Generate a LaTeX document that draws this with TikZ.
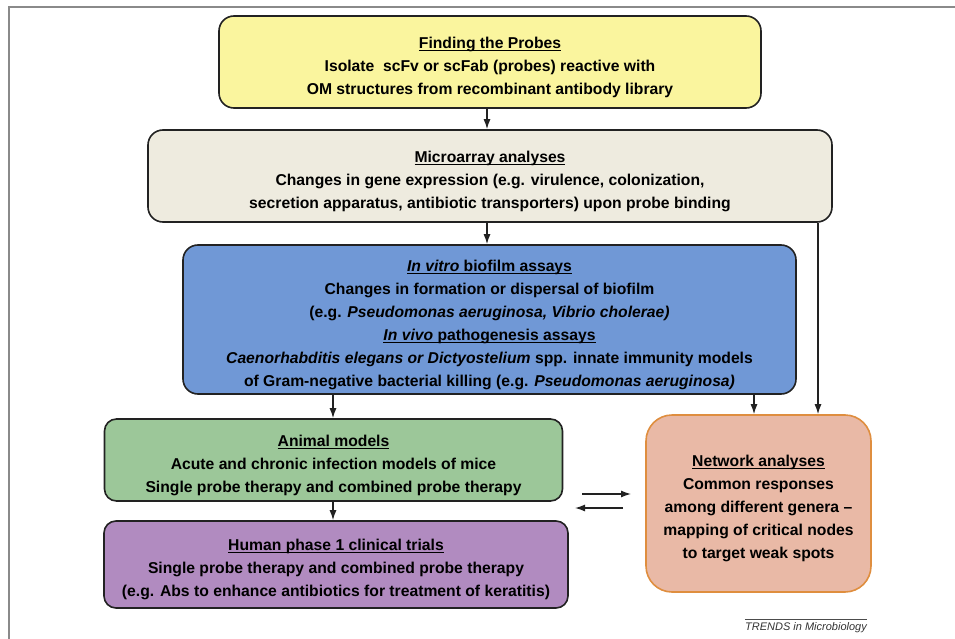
\documentclass[tikz,border=0pt]{standalone}
\usepackage{fontspec}
\setmainfont{Liberation Sans}
\usetikzlibrary{arrows.meta}
\definecolor{cyel}{HTML}{FAF59E}
\definecolor{cmic}{HTML}{EEEBDF}
\definecolor{cblue}{HTML}{7098D6}
\definecolor{cgreen}{HTML}{9CC799}
\definecolor{cpurp}{HTML}{B18BC0}
\definecolor{corf}{HTML}{E9B9A6}
\definecolor{cord}{HTML}{DF8E3F}
\definecolor{boxline}{HTML}{222222}
\definecolor{framec}{HTML}{8A8A8A}
\newcommand\ulx[1]{\setbox0\hbox{#1}\rlap{\rule[-2.6pt]{\wd0}{1.1pt}}\box0}
\newcommand\topstr{\rule{0pt}{22pt}}
\begin{document}
\begin{tikzpicture}[x=1pt,y=-1pt,
  box/.style={draw=boxline, line width=1.6pt, rounded corners=15pt, align=center,
    font=\bfseries\fontsize{15.7}{23}\selectfont, inner sep=0pt},
  arr/.style={line width=1.3pt, draw=boxline, -{Latex[length=10pt,width=7pt]}}]
\useasboundingbox (0,0) rectangle (955,639);
\draw[framec, line width=1.8pt] (9,639) -- (9,7) -- (955,7);

\node[box, fill=cyel, minimum width=542pt, minimum height=92pt] (find) at (490,62)
  {\topstr\ulx{Finding the Probes}\\Isolate\ \ scFv or scFab (probes) reactive with\\OM structures from recombinant antibody library};
\node[box, fill=cmic, minimum width=684pt, minimum height=92pt] (micro) at (490,176)
  {\topstr\ulx{Microarray analyses}\\Changes in gene expression (e.g. virulence, colonization,\\secretion apparatus, antibiotic transporters) upon probe binding};
\node[box, fill=cblue, minimum width=613pt, minimum height=149pt] (blue) at (489.5,319.5)
  {\topstr\ulx{\textit{In vitro} biofilm assays}\\Changes in formation or dispersal of biofilm\\(e.g. \textit{Pseudomonas aeruginosa, Vibrio cholerae)}\\\ulx{\textit{In vivo} pathogenesis assays}\\\textit{Caenorhabditis elegans or Dictyostelium} spp. innate immunity models\\of Gram-negative bacterial killing (e.g. \textit{Pseudomonas aeruginosa)}};
\node[box, fill=cgreen, rounded corners=12pt, minimum width=458pt, minimum height=82pt] (animal) at (333.5,460)
  {\topstr\ulx{Animal models}\\Acute and chronic infection models of mice\\Single probe therapy and combined probe therapy};
\node[box, fill=cpurp, rounded corners=12pt, minimum width=464pt, minimum height=87pt] (human) at (336,564.5)
  {\topstr\ulx{Human phase 1 clinical trials}\\Single probe therapy and combined probe therapy\\(e.g. Abs to enhance antibiotics for treatment of keratitis)};
\node[box, fill=corf, draw=cord, rounded corners=26pt, minimum width=225pt, minimum height=177pt] (net) at (758.5,503.5)
  {\topstr\ulx{Network analyses}\\Common responses\\among different genera --\\mapping of critical nodes\\to target weak spots};

\coordinate (c487) at (487,0);
\coordinate (c333) at (333,0);
\coordinate (c754) at (754,0);
\coordinate (c818) at (818,0);
\draw[arr] (find.south -| c487) -- (micro.north -| c487);
\draw[arr] (micro.south -| c487) -- (blue.north -| c487);
\draw[arr] (micro.south -| c818) -- (net.north -| c818);
\draw[arr] (blue.south -| c333) -- (animal.north -| c333);
\draw[arr] (blue.south -| c754) -- (net.north -| c754);
\draw[arr] (animal.south -| c333) -- (human.north -| c333);

\coordinate (a1) at (582,494);
\coordinate (a2) at (631,494);
\coordinate (b1) at (623,508);
\coordinate (b2) at (575,508);
\draw[arr] (a1) -- (a2);
\draw[arr] (b1) -- (b2);

\node[font=\itshape\fontsize{11}{12}\selectfont, text=black!80, inner sep=0pt] (trends) at (806,628) {TRENDS in Microbiology};
\draw[black!70, line width=0.7pt] ([yshift=3pt]trends.north west) -- ([yshift=3pt]trends.north east);
\end{tikzpicture}
\end{document}
